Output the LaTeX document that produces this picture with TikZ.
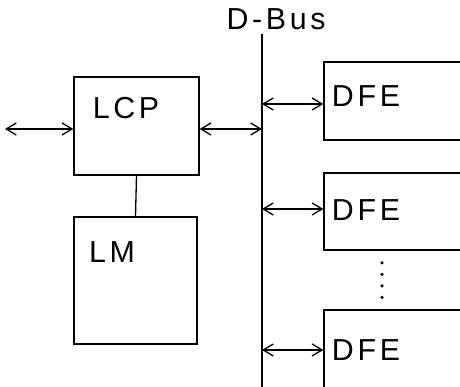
\documentclass[tikz,border=0pt]{standalone}
\usepackage{fontspec}
\newfontfamily\handfont[LetterSpace=12]{Liberation Sans}
\usetikzlibrary{arrows.meta}
\tikzset{
  blk/.style={draw,rectangle,inner sep=0pt},
  lbl/.style={font=\handfont\LARGE,inner sep=0pt},
  biarrow/.style={{Straight Barb[length=2mm,width=2.4mm]}-{Straight Barb[length=2mm,width=2.4mm]}}
}
\begin{document}
\begin{tikzpicture}[x=1cm,y=1cm,line width=0.75pt]
 \clip (0,0) rectangle (9.2,7.74);
 % bus
 \coordinate (bustop) at (5.24,7.06);
 \coordinate (busbot) at (5.24,-0.1);
 \draw (bustop)--(busbot);
 \node[lbl] (dbus) at (5.52,7.36) {D-Bus};
 % left side
 \node[blk,minimum width=2.5cm,minimum height=1.96cm] (lcp) at (2.73,5.22) {};
 \node[lbl] (lcptxt) at (2.52,5.58) {LCP};
 \node[blk,minimum width=2.46cm,minimum height=2.54cm] (lm) at (2.71,2.13) {};
 \node[lbl] (lmtxt) at (2.24,2.7) {LM};
 \draw (lcp.south)--(lm.north);
 \coordinate (ext) at (0.1,5.16);
 \draw[biarrow] (ext)--(lcp.west |- ext);
 \draw[biarrow] (lcp.east |- ext)--(bustop |- ext);
 % right side
 \foreach \nm/\yc/\bh/\ty in {dfea/5.72/1.56/5.82,dfeb/3.51/1.54/3.54,dfec/0.67/1.74/0.74}{%
   \node[blk,minimum width=2.76cm,minimum height=\bh cm] (\nm) at (7.86,\yc) {};
   \node[lbl] (\nm-txt) at (7.32,\ty) {DFE};
 }
 \foreach \nm/\ay in {dfea/5.66,dfeb/3.56,dfec/0.74}{%
   \coordinate (\nm-bus) at (5.24,\ay);
   \draw[biarrow] (\nm-bus)--(\nm.west |- \nm-bus);
 }
 \foreach \dy in {2.48,2.25,2.02,1.79}{%
   \fill (7.64,\dy) circle[radius=0.035];
 }
\end{tikzpicture}
\end{document}
